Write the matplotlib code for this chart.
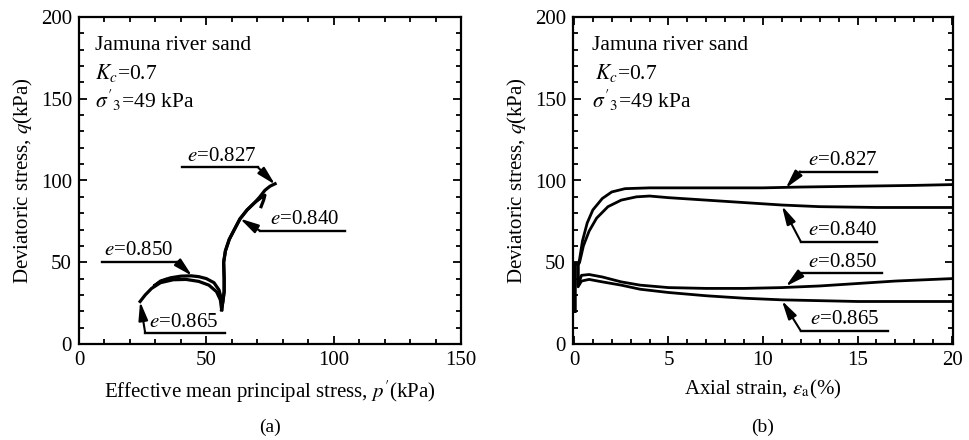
import numpy as np
import matplotlib.pyplot as plt
from matplotlib.ticker import MultipleLocator

plt.rcParams['font.family'] = ['Liberation Serif', 'DejaVu Serif']
plt.rcParams['mathtext.fontset'] = 'stix'
plt.rcParams['font.size'] = 14

# ---- (a) effective stress paths: p' (kPa), q (kPa) ----
p_827 = [56, 56.5, 57, 57, 56.8, 57.5, 59, 61, 63.2, 66, 69, 71, 73, 75, 77]
q_827 = [21, 26, 32, 40, 50, 57, 64, 70, 76.5, 82, 86.5, 90, 94, 96.5, 98]
p_840 = [56, 56.5, 57, 57, 56.8, 57.5, 59, 61, 63.2, 66, 69, 71.5, 73, 72.5, 71.5]
q_840 = [21, 26, 32, 40, 50, 57, 64, 70, 76.5, 82, 86.5, 89.5, 91, 88, 84]
p_850 = [56, 56, 55, 53, 50, 47, 44, 40, 36, 32, 29.5, 31, 34]
q_850 = [21, 27, 33, 37.5, 40, 41.2, 41.7, 41.5, 40.5, 38.5, 35.5, 37, 39.3]
p_865 = [56, 55.5, 54, 51, 47, 42, 37, 32, 28.5, 26, 24]
q_865 = [21, 27, 32, 36, 38.3, 39.5, 39.3, 37.5, 34, 30, 26]

# ---- (b) stress-strain curves: axial strain (%), q (kPa) ----
ea_827 = [0.05, 0.05, 0.25, 0.3, 0.45, 0.7, 1.0, 1.5, 2.0, 2.7, 4, 6, 8, 10, 12, 15, 18, 20]
qb_827 = [20, 49, 49, 52, 63, 74, 82, 89, 93, 95, 95.5, 95.5, 95.5, 95.5, 96, 96.5, 97, 97.5]
ea_840 = [0.05, 0.05, 0.25, 0.3, 0.5, 0.8, 1.2, 1.8, 2.5, 3.3, 4, 5, 7, 9, 11, 13, 16, 20]
qb_840 = [20, 49, 49, 50, 60, 69, 77, 84, 88, 90, 90.5, 89.5, 88, 86.5, 85, 84, 83.5, 83.5]
ea_850 = [0.05, 0.05, 0.22, 0.22, 0.4, 0.8, 1.5, 2.5, 3.5, 5, 7, 9, 11, 13, 15, 17, 20]
qb_850 = [20, 49, 49, 36, 42, 42.5, 41, 38, 36, 34.5, 34, 34, 34.5, 35.5, 37, 38.5, 40]
ea_865 = [0.05, 0.05, 0.22, 0.22, 0.4, 0.8, 1.5, 2.5, 3.5, 5, 7, 9, 11, 13, 15, 17, 20]
qb_865 = [20, 49, 49, 35, 38.5, 39.5, 38, 36, 33.5, 31.5, 29.5, 28, 27, 26.5, 26, 26, 26]

labels = ['e=0.827', 'e=0.840', 'e=0.850', 'e=0.865']
info_lines = ['Jamuna river sand', '$K_c$=0.7', "$\\sigma'_3$=49 kPa"]

fig = plt.figure(figsize=(9.7, 4.4), dpi=100)
ax1 = fig.add_axes([79/970, 1-344/440, (461-79)/970, (344-17)/440])
ax2 = fig.add_axes([573/970, 1-344/440, (953-573)/970, (344-17)/440])

for p, q in [(p_827, q_827), (p_840, q_840), (p_850, q_850), (p_865, q_865)]:
    ax1.plot(p, q, 'k-', lw=2.3, solid_joinstyle='round')
for ea, q in [(ea_827, qb_827), (ea_840, qb_840), (ea_850, qb_850), (ea_865, qb_865)]:
    ax2.plot(ea, q, 'k-', lw=2.0, solid_joinstyle='round')


def leader(ax, label, tip, start, end, text_xy):
    # horizontal rule, arrow from its near end to the curve, label above
    ax.plot([start[0], end[0]], [start[1], end[1]], 'k-', lw=1.7)
    ax.annotate('', xy=tip, xytext=start,
                arrowprops=dict(arrowstyle='-|>,head_length=0.8,head_width=0.2',
                                color='k', lw=1.5, shrinkA=0, shrinkB=0))
    ax.text(text_xy[0], text_xy[1], r'$e$=' + label.split('=')[1],
            ha='center', va='bottom', fontsize=15)


# (a) annotations
leader(ax1, labels[0], (77, 97.5), (70.3, 108), (40.5, 108), (56, 108.8))
leader(ax1, labels[1], (63.2, 76.7), (71, 69.3), (104.4, 69.3), (88.5, 70.2))
leader(ax1, labels[2], (44.4, 41.7), (38.5, 50.3), (9, 50.3), (23.5, 51.2))
leader(ax1, labels[3], (24, 26), (26, 6.7), (57.3, 6.7), (41, 7.6))

# (b) annotations
leader(ax2, labels[0], (11.2, 95.3), (11.95, 105.5), (16.05, 105.5), (14.2, 106.5))
leader(ax2, labels[1], (11.0, 84.5), (12.0, 62.6), (16.05, 62.6), (14.2, 63.5))
leader(ax2, labels[2], (11.2, 35.2), (12.0, 43.2), (16.3, 43.2), (14.2, 44.2))
leader(ax2, labels[3], (11.0, 26.5), (12.0, 8.0), (16.6, 8.0), (14.3, 9.0))

# test conditions block, one text per line
for ax, xs in [(ax1, (0.042, 0.042, 0.042)), (ax2, (0.05, 0.058, 0.05))]:
    for line, x, y in zip(info_lines, xs, (0.913, 0.83, 0.745)):
        ax.text(x, y, line, transform=ax.transAxes, va='center', ha='left',
                fontsize=15.5)

ax1.set_xlim(0, 150)
ax1.set_ylim(0, 200)
ax1.xaxis.set_major_locator(MultipleLocator(50))
ax1.xaxis.set_minor_locator(MultipleLocator(10))
ax1.set_xlabel("Effective mean principal stress, $p'$(kPa)", fontsize=15, labelpad=6)

ax2.set_xlim(-0.05, 20.05)
ax2.set_ylim(0, 200)
ax2.xaxis.set_major_locator(MultipleLocator(5))
ax2.xaxis.set_minor_locator(MultipleLocator(1))
ax2.set_xlabel(r'Axial strain, $\varepsilon_\mathrm{a}$(%)', fontsize=15, labelpad=6)

for ax in (ax1, ax2):
    ax.yaxis.set_major_locator(MultipleLocator(50))
    ax.yaxis.set_minor_locator(MultipleLocator(10))
    ax.set_ylabel('Deviatoric stress, $q$(kPa)', fontsize=15, labelpad=4)
    ax.tick_params(which='both', direction='in', top=True, right=True,
                   labelsize=15, width=1.3, pad=5)
    ax.tick_params(which='major', length=6)
    ax.tick_params(which='minor', length=3.5)
    for s in ax.spines.values():
        s.set_linewidth(1.6)

fig.text(270/970, 1-427/440, '(a)', ha='center', va='center', fontsize=14)
fig.text(763/970, 1-427/440, '(b)', ha='center', va='center', fontsize=14)

fig.savefig('out.png', dpi=100)
